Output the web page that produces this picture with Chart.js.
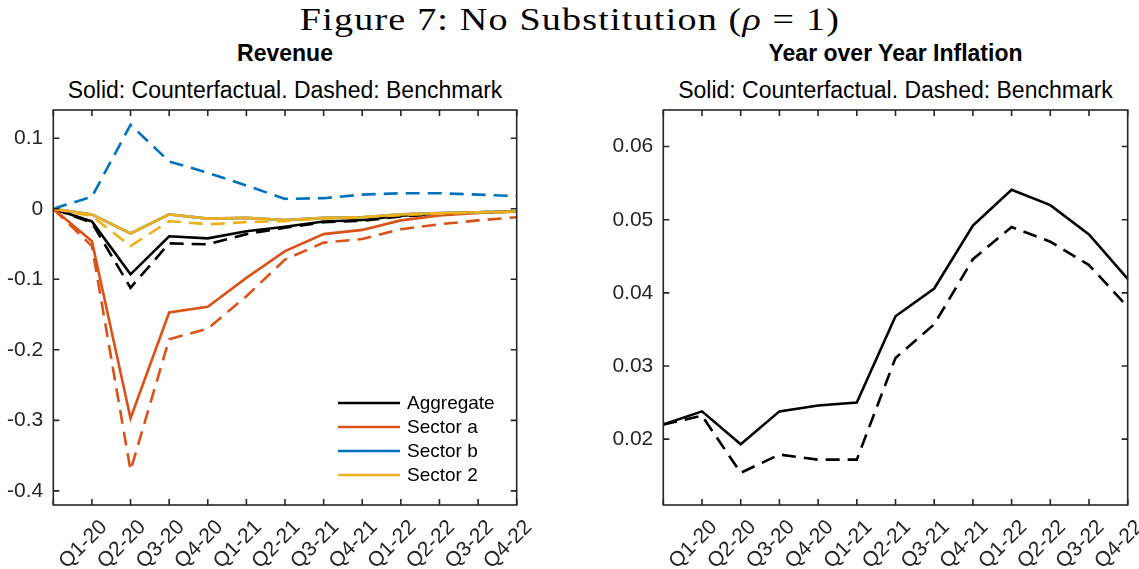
<!DOCTYPE html>
<html>
<head>
<meta charset="utf-8">
<script src="https://cdn.jsdelivr.net/npm/chart.js@4.4.1/dist/chart.umd.min.js"></script>
<style>
  html, body { margin: 0; padding: 0; background: #fff; }
  body { width: 1139px; height: 569px; position: relative; overflow: hidden; font-family: "Liberation Sans", Arial, sans-serif; }
  .supwrap { position: absolute; left: 0; width: 1139px; top: 1px; text-align: center; }
  .sup { display: inline-block; font-family: "Liberation Serif", "DejaVu Serif", serif; font-size: 32px; color: #000; letter-spacing: 1px; transform: scaleX(1.19); transform-origin: center; white-space: nowrap; }
  .ttl { position: absolute; text-align: center; font-size: 23px; color: #000; white-space: nowrap; }
  .ttl b { font-weight: bold; }
  canvas { position: absolute; }
</style>
</head>
<body>
<div class="supwrap"><span class="sup">Figure 7: No Substitution (<i>ρ</i> = 1)</span></div>
<div class="ttl" style="left:53px;width:464px;top:40px;"><b>Revenue</b></div>
<div class="ttl" style="left:33px;width:504px;top:77px;">Solid: Counterfactual. Dashed: Benchmark</div>
<div class="ttl" style="left:663px;width:465px;top:40px;"><b>Year over Year Inflation</b></div>
<div class="ttl" style="left:643px;width:505px;top:77px;">Solid: Counterfactual. Dashed: Benchmark</div>
<div style="position:absolute;left:0;top:100px;width:545px;height:469px;"><canvas id="c1" width="545" height="469"></canvas></div>
<div style="position:absolute;left:560px;top:100px;width:579px;height:469px;"><canvas id="c2" width="600" height="469"></canvas></div>
<script>
// ---- data ----
const xLabels = ['', 'Q1-20', 'Q2-20', 'Q3-20', 'Q4-20', 'Q1-21', 'Q2-21', 'Q3-21', 'Q4-21', 'Q1-22', 'Q2-22', 'Q3-22', 'Q4-22'];
const seriesNames = ['Aggregate', 'Sector a', 'Sector b', 'Sector 2'];
const aggSolid = [0, -0.018, -0.093, -0.039, -0.042, -0.032, -0.0255, -0.018, -0.016, -0.010, -0.007, -0.005, -0.004];
const aggDash  = [0, -0.020, -0.112, -0.049, -0.0505, -0.036, -0.027, -0.019, -0.017, -0.011, -0.0075, -0.005, -0.004];
const aSolid   = [0, -0.046, -0.297, -0.147, -0.139, -0.098, -0.060, -0.036, -0.030, -0.0165, -0.0095, -0.006, -0.004];
const aDash    = [0, -0.053, -0.371, -0.185, -0.170, -0.124, -0.072, -0.048, -0.043, -0.029, -0.022, -0.0165, -0.012];
const bSolid   = [0, -0.008, -0.035, -0.008, -0.014, -0.013, -0.016, -0.013, -0.012, -0.008, -0.006, -0.005, -0.004];
const bDash    = [0, 0.017, 0.119, 0.067, 0.051, 0.033, 0.014, 0.015, 0.020, 0.022, 0.022, 0.020, 0.018];
const s2Solid  = [0, -0.008, -0.035, -0.008, -0.014, -0.013, -0.016, -0.013, -0.012, -0.008, -0.006, -0.005, -0.004];
const s2Dash   = [0, -0.0105, -0.053, -0.0175, -0.022, -0.019, -0.0175, -0.014, -0.012, -0.009, -0.007, -0.005, -0.0045];
const infSolid = [0.0220, 0.0238, 0.0193, 0.0238, 0.0246, 0.0250, 0.0368, 0.0406, 0.0492, 0.0541, 0.0520, 0.0480, 0.0419];
const infDash  = [0.0220, 0.0232, 0.0154, 0.0179, 0.0172, 0.0172, 0.0311, 0.0357, 0.0446, 0.0490, 0.0470, 0.0438, 0.0381];
const revTicks = [-0.4, -0.3, -0.2, -0.1, 0, 0.1];
const revTickLabels = ['-0.4', '-0.3', '-0.2', '-0.1', '0', '0.1'];
const infTicks = [0.02, 0.03, 0.04, 0.05, 0.06];
const infTickLabels = ['0.02', '0.03', '0.04', '0.05', '0.06'];
const colors = ['#000000', '#D95319', '#0072BD', '#EDB120'];

const AX = '#262626';
const FONT = "'Liberation Sans', Arial, sans-serif";
const DASH = [14, 8];

function line(label, data, color, dashed, order) {
  return { label, data, borderColor: color, backgroundColor: color, borderWidth: 2.6,
    borderDash: dashed ? DASH : [], pointRadius: 0, tension: 0, fill: false, order,
    borderCapStyle: 'butt', borderJoinStyle: 'miter' };
}

function zeroPad(s) { s.paddingTop = 0; s.paddingBottom = 0; s.paddingLeft = 0; s.paddingRight = 0; }

const boxPlugin = {
  id: 'matlabBox',
  afterDatasetsDraw(chart) {
    const { ctx, chartArea: a, scales } = chart;
    const xs = scales.x, ys = scales.y;
    const L = 6;
    ctx.save();
    ctx.strokeStyle = AX; ctx.lineWidth = 1.6; ctx.setLineDash([]);
    ctx.beginPath();
    xs.ticks.forEach((t, i) => {
      const px = xs.getPixelForTick(i);
      ctx.moveTo(px, a.bottom); ctx.lineTo(px, a.bottom - L);
      ctx.moveTo(px, a.top); ctx.lineTo(px, a.top + L);
    });
    ys.ticks.forEach((t) => {
      const py = ys.getPixelForValue(t.value);
      ctx.moveTo(a.left, py); ctx.lineTo(a.left + L, py);
      ctx.moveTo(a.right, py); ctx.lineTo(a.right - L, py);
    });
    ctx.stroke();
    ctx.strokeRect(a.left, a.top, a.right - a.left, a.bottom - a.top);
    ctx.restore();
  }
};

const legendPlugin = {
  id: 'matlabLegend',
  afterDatasetsDraw(chart, args, opts) {
    if (!opts || !opts.show) return;
    const { ctx } = chart;
    ctx.save();
    ctx.font = '19px ' + FONT;
    ctx.textBaseline = 'middle';
    ctx.fillStyle = '#000';
    opts.names.forEach((n, i) => {
      const y = opts.y + i * opts.dy;
      ctx.strokeStyle = opts.colors[i]; ctx.lineWidth = 2.6; ctx.setLineDash([]);
      ctx.beginPath(); ctx.moveTo(opts.x, y); ctx.lineTo(opts.x + 62, y); ctx.stroke();
      ctx.fillText(n, opts.x + 69, y + 1);
    });
    ctx.restore();
  }
};

function makeChart(id, datasets, ymin, ymax, ticks, tickLabels, yWidth, pad, legend) {
  return new Chart(document.getElementById(id), {
    type: 'line',
    data: { labels: xLabels, datasets },
    options: {
      responsive: false, animation: false, events: [],
      layout: { padding: pad },
      plugins: { legend: { display: false }, tooltip: { enabled: false }, title: { display: false },
        matlabLegend: legend },
      scales: {
        x: {
          type: 'category', offset: false,
          grid: { display: false, drawTicks: false }, border: { display: false },
          ticks: { autoSkip: false, minRotation: 45, maxRotation: 45, color: AX, padding: 10, labelOffset: 12,
                   font: { family: FONT, size: 21 } },
          afterFit(s) { s.height = 64; zeroPad(s); }
        },
        y: {
          min: ymin, max: ymax,
          grid: { display: false, drawTicks: false }, border: { display: false },
          ticks: { color: AX, padding: 10, font: { family: FONT, size: 21 },
                   callback: (v) => { const k = ticks.findIndex(t => Math.abs(t - v) < 1e-9); return k >= 0 ? tickLabels[k] : ''; } },
          afterBuildTicks(s) { s.ticks = ticks.map(v => ({ value: v })); },
          afterFit(s) { s.width = yWidth; zeroPad(s); }
        }
      }
    },
    plugins: [boxPlugin, legendPlugin]
  });
}

makeChart('c1', [
  line(seriesNames[3], s2Solid, colors[3], false, 0),
  line(seriesNames[3], s2Dash, colors[3], true, 1),
  line(seriesNames[2], bSolid, colors[2], false, 2),
  line(seriesNames[2], bDash, colors[2], true, 3),
  line(seriesNames[1], aSolid, colors[1], false, 4),
  line(seriesNames[1], aDash, colors[1], true, 5),
  line(seriesNames[0], aggSolid, colors[0], false, 6),
  line(seriesNames[0], aggDash, colors[0], true, 7)
], -0.42, 0.14, revTicks, revTickLabels, 53.3, { top: 10, left: 0, right: 28.3, bottom: 0 },
  { show: true, names: seriesNames, colors, x: 338, y: 303, dy: 24 });

makeChart('c2', [
  line('Counterfactual', infSolid, '#000', false, 0),
  line('Benchmark', infDash, '#000', true, 1)
], 0.011, 0.065, infTicks, infTickLabels, 103.3, { top: 10, left: 0, right: 32.3, bottom: 0 },
  { show: false });
</script>
</body>
</html>
